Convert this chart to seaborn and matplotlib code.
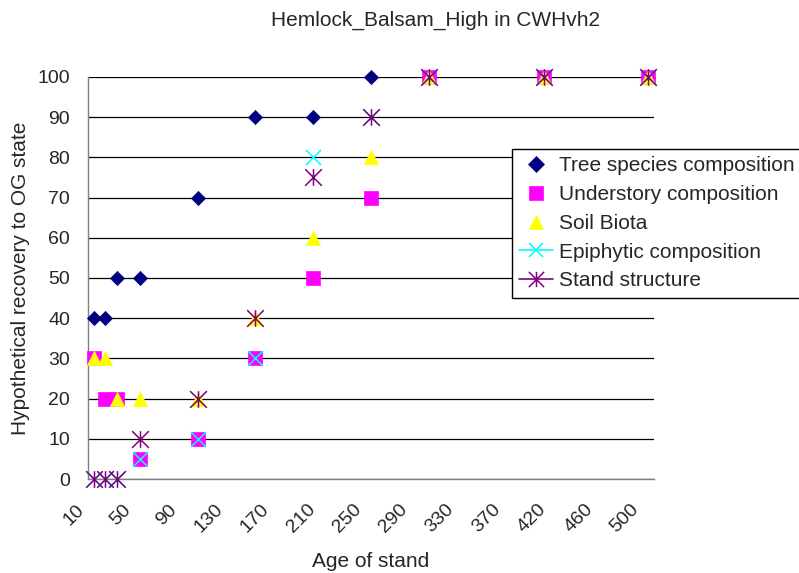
import matplotlib
matplotlib.use("Agg")
import matplotlib.pyplot as plt
import matplotlib.transforms as mtransforms
import seaborn as sns
from matplotlib.path import Path
from matplotlib.lines import Line2D

# category axis of stand ages (410 is not one of the categories)
ages = list(range(10, 410, 10)) + list(range(420, 510, 10))
tick_ages = [10, 50, 90, 130, 170, 210, 250, 290, 330, 370, 420, 460, 500]

sample_ages = [10, 20, 30, 50, 100, 150, 200, 250, 300, 400, 500]
tree_species = [40, 40, 50, 50, 70, 90, 90, 100, 100, 100, 100]
understory = [30, 20, 20, 5, 10, 30, 50, 70, 100, 100, 100]
soil_biota = [30, 30, 20, 20, 20, 40, 60, 80, 100, 100, 100]
epiphytic = [0, 0, 0, 5, 10, 30, 80, 90, 100, 100, 100]
stand_structure = [0, 0, 0, 10, 20, 40, 75, 90, 100, 100, 100]

series_names = ["Tree species composition", "Understory composition", "Soil Biota",
                "Epiphytic composition", "Stand structure"]
series_values = [tree_species, understory, soil_biota, epiphytic, stand_structure]

# excel style star: an x with a vertical bar through it
star = Path([(-0.5, -0.5), (0.5, 0.5), (-0.5, 0.5), (0.5, -0.5), (0, -0.5), (0, 0.5)],
            [Path.MOVETO, Path.LINETO, Path.MOVETO, Path.LINETO, Path.MOVETO, Path.LINETO])

colors = ["#000080", "#FF00FF", "#FFFF00", "#00FFFF", "#800080"]
markers = ["D", "s", "^", "x", star]
sizes = [52, 100, 105, 117, 144]
widths = [0.5, 0.5, 0.5, 1.1, 1.1]

sns.set_style("white")
plt.rcParams["font.family"] = ["Liberation Sans", "DejaVu Sans"]

fig = plt.figure(figsize=(7.99, 5.73), dpi=100)
ax = fig.add_axes([88 / 799, 1 - 479 / 573, 566 / 799, 402 / 573])

xpos = [ages.index(a) for a in sample_ages]
for name, vals, c, m, s, lw in zip(series_names, series_values, colors, markers, sizes, widths):
    sns.scatterplot(x=xpos, y=vals, marker=m, color=c, edgecolor=c, s=s, linewidth=lw,
                    ax=ax, clip_on=False, zorder=3, legend=False)

ax.set_xlim(-0.5, len(ages) - 0.5)
ax.set_ylim(0, 100)
ax.set_yticks(range(0, 101, 10))
ax.set_xticks([ages.index(a) for a in tick_ages])
ax.set_xticklabels([str(a) for a in tick_ages], rotation=45, ha="right", va="top",
                   rotation_mode="anchor")
ax.set_xticks([i - 0.5 for i in range(len(ages) + 1)], minor=True)
ax.tick_params(axis="x", which="major", length=0, pad=8, labelsize=14)
ax.tick_params(axis="x", which="minor", length=5, width=1, color="#808080", direction="out")
ax.tick_params(axis="y", length=5, width=1, color="#808080", direction="out", pad=8, labelsize=14)
ax.yaxis.grid(True, color="black", linewidth=0.9)
ax.xaxis.grid(False)
ax.set_axisbelow(True)

offset = mtransforms.ScaledTranslation(-18 / 100, -11 / 100, fig.dpi_scale_trans)
for lab in ax.get_xticklabels():
    lab.set_transform(lab.get_transform() + offset)

for side in ["top", "right"]:
    ax.spines[side].set_visible(False)
for side in ["left", "bottom"]:
    ax.spines[side].set_color("#808080")
    ax.spines[side].set_linewidth(1)
    ax.spines[side].set_zorder(2.5)

ax.set_xlabel("Age of stand", fontsize=15)
ax.xaxis.set_label_coords(0.5, -0.182)
ax.set_ylabel("Hypothetical recovery to OG state", fontsize=15)
ax.yaxis.set_label_coords(-0.102, 0.5)

fig.text(436 / 799, 1 - 26 / 573, "Hemlock_Balsam_High in CWHvh2", ha="center", va="baseline",
         fontsize=15)

handles = []
for i, (name, c, m) in enumerate(zip(series_names, colors, markers)):
    ls = "-" if i >= 3 else "none"
    ms = [8, 9.5, 10, 10, 11][i]
    handles.append(Line2D([], [], color=c, marker=m, markersize=ms, linestyle=ls, linewidth=1.2,
                          markeredgecolor=c, markerfacecolor=c, markeredgewidth=[0.5, 0.5, 0.5, 1.1, 1.1][i]))
leg = ax.legend(handles=handles, labels=series_names, loc="upper left",
                bbox_to_anchor=(512 / 799, 1 - 149 / 573), bbox_transform=fig.transFigure,
                fontsize=15, frameon=True, fancybox=False, framealpha=1, edgecolor="black",
                handlelength=1.6, handletextpad=0.3, labelspacing=0.47, borderpad=0.35,
                borderaxespad=0)
leg.get_frame().set_linewidth(1)

plt.savefig("out.png", dpi=100)
